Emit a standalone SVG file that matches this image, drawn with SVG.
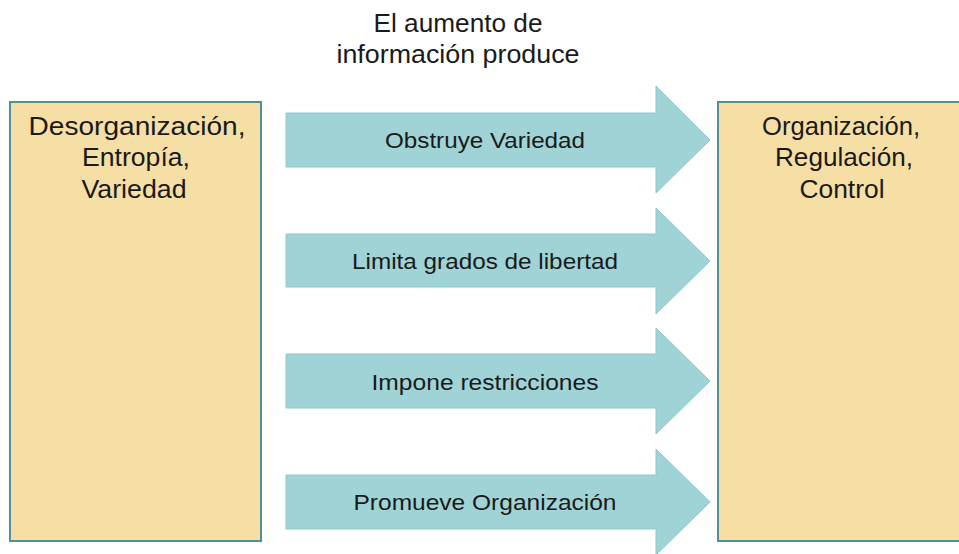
<svg xmlns="http://www.w3.org/2000/svg" width="959" height="554" viewBox="0 0 959 554">
<style>
.box{fill:#f6dfa5;stroke:#4f9198;stroke-width:2}
.arr{fill:#9fd3d6;stroke:#8ccacd;stroke-width:1}
text{font-family:"Liberation Sans",Arial,sans-serif;fill:#1a1a1a;text-anchor:middle}
.bt{font-size:25px}
.at{font-size:22.5px}
.tt{font-size:25px}
</style>
<rect x="0" y="0" width="959" height="554" fill="#ffffff"/>
<g id="title">
<text class="tt" x="458" y="32" textLength="169" lengthAdjust="spacingAndGlyphs">El aumento de</text>
<text class="tt" x="458" y="63" textLength="243" lengthAdjust="spacingAndGlyphs">información produce</text>
</g>
<g id="left">
<rect class="box" x="10" y="102" width="251" height="439"/>
<text class="bt" x="137" y="135" textLength="217" lengthAdjust="spacingAndGlyphs">Desorganización,</text>
<text class="bt" x="136" y="166" textLength="108" lengthAdjust="spacingAndGlyphs">Entropía,</text>
<text class="bt" x="134" y="198" textLength="105" lengthAdjust="spacingAndGlyphs">Variedad</text>
</g>
<g id="right">
<rect class="box" x="718" y="102" width="250" height="439"/>
<text class="bt" x="841" y="135" textLength="158" lengthAdjust="spacingAndGlyphs">Organización,</text>
<text class="bt" x="844" y="166" textLength="138" lengthAdjust="spacingAndGlyphs">Regulación,</text>
<text class="bt" x="842" y="198" textLength="85" lengthAdjust="spacingAndGlyphs">Control</text>
</g>
<g id="connectors">
<g id="a1">
<path class="arr" d="M286 113 H656 V86 L710 140 L656 193 V167 H286 Z"/>
<text class="at" x="485" y="148" textLength="200" lengthAdjust="spacingAndGlyphs">Obstruye Variedad</text>
</g>
<g id="a2">
<path class="arr" d="M286 234 H656 V208 L710 261 L656 314 V287 H286 Z"/>
<text class="at" x="485" y="269" textLength="266" lengthAdjust="spacingAndGlyphs">Limita grados de libertad</text>
</g>
<g id="a3">
<path class="arr" d="M286 354 H656 V328 L710 381 L656 434 V408 H286 Z"/>
<text class="at" x="485" y="390" textLength="227" lengthAdjust="spacingAndGlyphs">Impone restricciones</text>
</g>
<g id="a4">
<path class="arr" d="M286 475 H656 V449 L710 502 L656 555 V529 H286 Z"/>
<text class="at" x="485" y="510" textLength="263" lengthAdjust="spacingAndGlyphs">Promueve Organización</text>
</g>
</g>
</svg>
